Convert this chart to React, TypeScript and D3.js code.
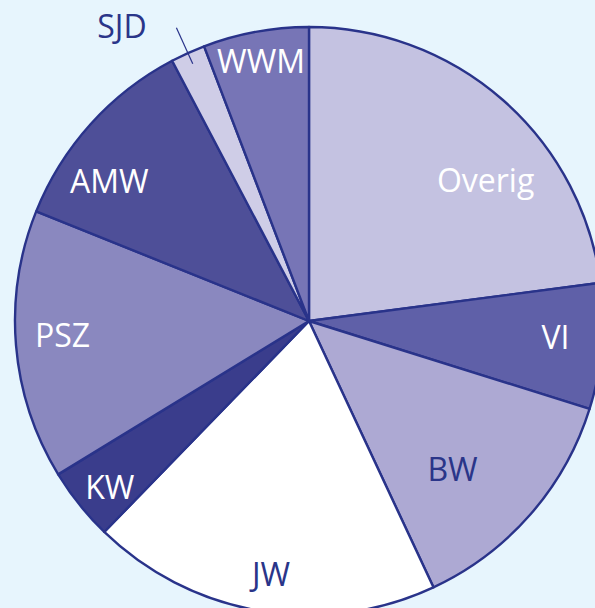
import React from "react";
import { pie, arc, PieArcDatum } from "d3";

// slice order goes clockwise from 12 o'clock
const categories = ["Overig", "VI", "BW", "JW", "KW", "PSZ", "AMW", "SJD", "WWM"];
const shares = [22.9, 6.9, 13.2, 19.2, 4.0, 14.8, 11.2, 1.9, 5.8];

const fills = ["#c4c2e1", "#5f60a8", "#ada9d3", "#ffffff", "#3a3d8c", "#8a88bf", "#4e4f98", "#cfcde7", "#7775b6"];
const labelColors = ["#fff", "#fff", "#2a3589", "#2a3589", "#fff", "#fff", "#fff", "#2a3589", "#fff"];

// label radius as part of outer radius, and small angle nudges (degrees)
const labelRadius = [0.77, 0.84, 0.7, 0.87, 0.88, 0.84, 0.83, 1.19, 0.9];
const labelNudge = [10, -1.4, 4.6, -1, -1, 1.6, -7, -8, 0];

const W = 595;
const H = 608;
const cx = 309;
const cy = 321;
const R = 294;
const stroke = "#29338a";

type Slice = { name: string; value: number; i: number };

const App = () => {
  const slices: Slice[] = categories.map((name, i) => ({ name, value: shares[i], i }));
  const arcs = pie<Slice>().value(d => d.value).sort(null)(slices);

  const slicePath = arc<PieArcDatum<Slice>>().innerRadius(0).outerRadius(R);

  const labelPos = (d: PieArcDatum<Slice>) => {
    const r = R * labelRadius[d.data.i];
    const mid = (d.startAngle + d.endAngle) / 2 + (labelNudge[d.data.i] * Math.PI) / 180;
    return arc<any>().innerRadius(r).outerRadius(r).centroid({ startAngle: mid, endAngle: mid } as any);
  };

  // leader for the tiny SJD slice
  const sjd = arcs.find(d => d.data.name === "SJD")!;
  const sjdMid = (sjd.startAngle + sjd.endAngle) / 2;
  const leaderFrom = arc<any>().innerRadius(R * 0.96).outerRadius(R * 0.96).centroid({ startAngle: sjdMid, endAngle: sjdMid } as any);
  const leaderTo = arc<any>().innerRadius(R * 1.095).outerRadius(R * 1.095).centroid({ startAngle: sjdMid, endAngle: sjdMid } as any);

  return (
    <svg
      width={W}
      height={H}
      style={{ position: "fixed", left: 0, top: 0, display: "block", background: "#e7f5fd" }}
    >
      <g transform={`translate(${cx},${cy})`}>
        {arcs.map(d => (
          <path
            key={d.data.name}
            d={slicePath(d) || ""}
            fill={fills[d.data.i]}
            stroke={stroke}
            strokeWidth={2.4}
            strokeLinejoin="round"
          />
        ))}
        <line
          x1={leaderFrom[0]}
          y1={leaderFrom[1]}
          x2={leaderTo[0]}
          y2={leaderTo[1]}
          stroke={stroke}
          strokeWidth={1.2}
        />
        {arcs.map(d => {
          const [x, y] = labelPos(d);
          return (
            <text
              key={"t" + d.data.name}
              x={x}
              y={y}
              textAnchor="middle"
              dominantBaseline="central"
              fill={labelColors[d.data.i]}
              fontFamily="'Open Sans', 'Noto Sans', sans-serif"
              fontSize={32}
            >
              {d.data.name}
            </text>
          );
        })}
      </g>
    </svg>
  );
};

export default App;
